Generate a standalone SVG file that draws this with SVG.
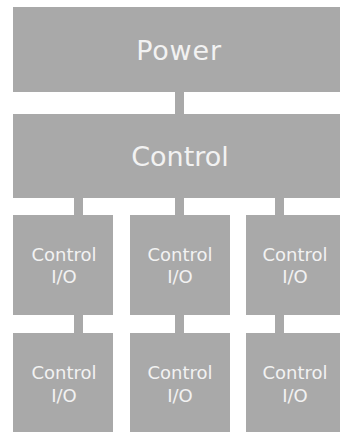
<svg xmlns="http://www.w3.org/2000/svg" width="340" height="432" viewBox="0 0 340 432">
  <defs>
    <style>
      .box { fill: #a9a9a9; }
      .link { fill: #a9a9a9; }
      text { font-family: "DejaVu Sans", "Liberation Sans", sans-serif; fill: #f2f2f2; text-anchor: middle; }
      .big { font-size: 27px; }
      .small { font-size: 18px; }
    </style>
  </defs>
  <rect width="340" height="432" fill="#ffffff"/>

  <!-- connectors -->
  <g id="connectors">
    <rect class="link" x="175" y="91" width="9" height="24"/>
    <rect class="link" x="74" y="197" width="9" height="19"/>
    <rect class="link" x="175" y="197" width="9" height="19"/>
    <rect class="link" x="275" y="197" width="9" height="19"/>
    <rect class="link" x="74" y="314" width="9" height="20"/>
    <rect class="link" x="175" y="314" width="9" height="20"/>
    <rect class="link" x="275" y="314" width="9" height="20"/>
  </g>

  <g id="power">
    <rect class="box" x="13" y="7" width="327" height="85"/>
    <text class="big" x="179" y="60" style="letter-spacing:0.8px">Power</text>
  </g>

  <g id="control">
    <rect class="box" x="13" y="114" width="327" height="84"/>
    <text class="big" x="180" y="166">Control</text>
  </g>

  <g id="io-1-1">
    <rect class="box" x="13" y="215" width="100" height="100"/>
    <text class="small" x="64" y="261">Control</text>
    <text class="small" x="64" y="283">I/O</text>
  </g>
  <g id="io-1-2">
    <rect class="box" x="130" y="215" width="100" height="100"/>
    <text class="small" x="180" y="261">Control</text>
    <text class="small" x="180" y="283">I/O</text>
  </g>
  <g id="io-1-3">
    <rect class="box" x="246" y="215" width="94" height="100"/>
    <text class="small" x="295" y="261">Control</text>
    <text class="small" x="295" y="283">I/O</text>
  </g>

  <g id="io-2-1">
    <rect class="box" x="13" y="333" width="100" height="99"/>
    <text class="small" x="64" y="379">Control</text>
    <text class="small" x="64" y="402">I/O</text>
  </g>
  <g id="io-2-2">
    <rect class="box" x="130" y="333" width="100" height="99"/>
    <text class="small" x="180" y="379">Control</text>
    <text class="small" x="180" y="402">I/O</text>
  </g>
  <g id="io-2-3">
    <rect class="box" x="246" y="333" width="94" height="99"/>
    <text class="small" x="295" y="379">Control</text>
    <text class="small" x="295" y="402">I/O</text>
  </g>
</svg>
